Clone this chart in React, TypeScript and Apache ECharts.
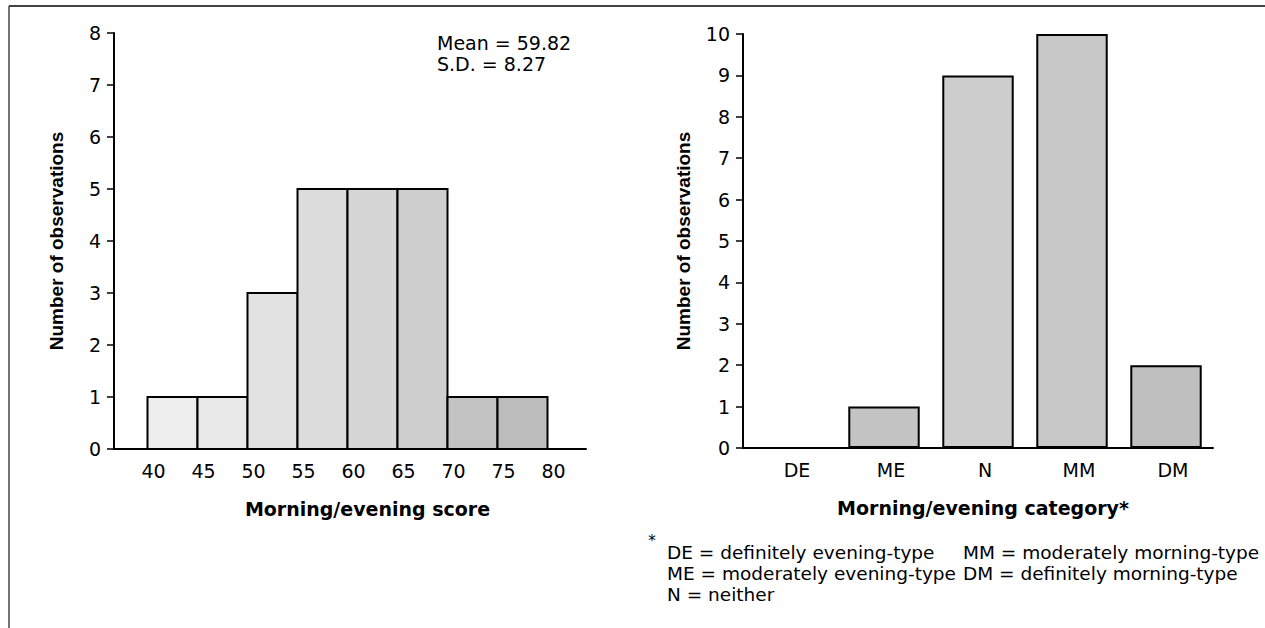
import React, { useEffect, useRef } from "react";
import * as echarts from "echarts";

// ---- data ----
const binStarts = [40, 45, 50, 55, 60, 65, 70, 75];
const binWidth = 5;
const binCounts = [1, 1, 3, 5, 5, 5, 1, 1];
const binShades = ["#eeeeee", "#e9e9e9", "#e2e2e2", "#dcdcdc", "#d6d6d6", "#cfcfcf", "#c3c3c3", "#bcbcbc"];

const categories = ["DE", "ME", "N", "MM", "DM"];
const categoryCounts = [0, 1, 9, 10, 2];
const categoryShades = ["#c8c8c8", "#c4c4c4", "#cdcdcd", "#c8c8c8", "#bfbfbf"];

const leftYMax = 8;
const rightYMax = 10;
const scoreMin = 40;
const scoreMax = 80;

const statLines = ["Mean = 59.82", "S.D. = 8.27"];
const footLeft = ["DE = definitely evening-type", "ME = moderately evening-type", "N = neither"];
const footRight = ["MM = moderately morning-type", "DM = definitely morning-type"];

const SANS = "'DejaVu Sans', sans-serif";
const ARIAL = "'Liberation Sans', Arial, sans-serif";

export default function App() {
  const ref = useRef<HTMLDivElement>(null);

  useEffect(() => {
    if (!ref.current) return;
    const chart = echarts.init(ref.current, undefined, { renderer: "svg" });

    const yLabel = { fontSize: 19, fontFamily: SANS, color: "#000", margin: 13 };
    const yTick = { show: true, inside: false, length: 7, lineStyle: { color: "#000", width: 1.5 } };
    const axisLine = { show: true, lineStyle: { color: "#000", width: 2 } };

    const histData = binStarts.map((s, i) => [s, s + binWidth, binCounts[i], i]);

    const option: any = {
      animation: false,
      backgroundColor: "#fff",
      grid: [
        { left: 114, top: 33, width: 472, height: 416 },
        { left: 147.5, top: 33, width: 400, height: 416 },
        { left: 743, top: 34, width: 470, height: 414 },
      ],
      xAxis: [
        {
          gridIndex: 0, type: "value", min: 0, max: 1,
          axisLine, axisTick: { show: false }, axisLabel: { show: false }, splitLine: { show: false },
        },
        {
          gridIndex: 1, type: "value", min: scoreMin, max: scoreMax, interval: 5,
          axisLine: { show: false }, axisTick: { show: false }, splitLine: { show: false },
          axisLabel: { fontSize: 19, fontFamily: SANS, color: "#000", margin: 12, padding: [0, 0, 0, 12] },
          name: "Morning/evening score", nameLocation: "middle", nameGap: 50,
          nameTextStyle: { fontSize: 19, fontWeight: "bold", fontFamily: SANS, color: "#000", padding: [0, 0, 0, 40] },
        },
        {
          gridIndex: 2, type: "category", data: categories, boundaryGap: true,
          axisLine, axisTick: { show: false }, splitLine: { show: false },
          axisLabel: { fontSize: 19, fontFamily: SANS, color: "#000", margin: 12, padding: [0, 0, 0, 14] },
          name: "Morning/evening category*", nameLocation: "middle", nameGap: 50,
          nameTextStyle: { fontSize: 19, fontWeight: "bold", fontFamily: SANS, color: "#000", padding: [0, 0, 0, 10] },
        },
      ],
      yAxis: [
        {
          gridIndex: 0, type: "value", min: 0, max: leftYMax, interval: 1,
          axisLine, axisTick: yTick, axisLabel: yLabel, splitLine: { show: false },
          name: "Number of observations", nameLocation: "middle", nameRotate: 90, nameGap: 48,
          nameTextStyle: { fontSize: 19, fontWeight: "bold", fontFamily: ARIAL, color: "#000" },
        },
        {
          gridIndex: 1, type: "value", min: 0, max: leftYMax, show: false,
        },
        {
          gridIndex: 2, type: "value", min: 0, max: rightYMax, interval: 1,
          axisLine, axisTick: yTick, axisLabel: yLabel, splitLine: { show: false },
          name: "Number of observations", nameLocation: "middle", nameRotate: 90, nameGap: 50,
          nameTextStyle: { fontSize: 19, fontWeight: "bold", fontFamily: ARIAL, color: "#000" },
        },
      ],
      series: [
        {
          type: "custom",
          xAxisIndex: 1,
          yAxisIndex: 1,
          data: histData,
          renderItem: (params: any, api: any) => {
            const p0 = api.coord([api.value(0), 0]);
            const p1 = api.coord([api.value(1), api.value(2)]);
            const idx = api.value(3);
            return {
              type: "rect",
              shape: { x: p0[0], y: p1[1], width: p1[0] - p0[0], height: p0[1] - p1[1] },
              style: { fill: binShades[idx], stroke: "#000", lineWidth: 2 },
            };
          },
        },
        {
          type: "bar",
          xAxisIndex: 2,
          yAxisIndex: 2,
          barCategoryGap: "24%",
          data: categoryCounts.map((v, i) => ({
            value: v,
            itemStyle: { color: categoryShades[i], borderColor: v > 0 ? "#000" : "transparent", borderWidth: 2 },
          })),
        },
      ],
      graphic: [
        { type: "line", shape: { x1: 9, y1: 6, x2: 1265, y2: 6 }, style: { stroke: "#444", lineWidth: 2 } },
        { type: "line", shape: { x1: 9, y1: 6, x2: 9, y2: 628 }, style: { stroke: "#444", lineWidth: 1.5 } },
        ...statLines.map((t, i) => ({
          type: "text", x: 437, y: 43 + i * 21,
          style: { text: t, fontSize: 19, fontFamily: SANS, fill: "#000", align: "left", verticalAlign: "middle" },
        })),
        {
          type: "text", x: 652, y: 541,
          style: { text: "*", fontSize: 15, fontFamily: SANS, fill: "#000", align: "center", verticalAlign: "middle" },
        },
        ...footLeft.map((t, i) => ({
          type: "text", x: 667, y: 552 + i * 21,
          style: { text: t, fontSize: 18.5, fontFamily: SANS, fill: "#000", align: "left", verticalAlign: "middle" },
        })),
        ...footRight.map((t, i) => ({
          type: "text", x: 963, y: 552 + i * 21,
          style: { text: t, fontSize: 18.5, fontFamily: SANS, fill: "#000", align: "left", verticalAlign: "middle" },
        })),
      ],
    };

    chart.setOption(option);
    return () => chart.dispose();
  }, []);

  return (
    <div
      ref={ref}
      style={{ position: "fixed", left: 0, top: 0, width: 1265, height: 628, background: "#fff" }}
    />
  );
}
